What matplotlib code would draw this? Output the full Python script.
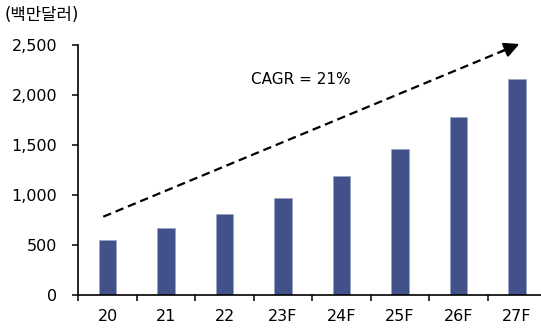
import matplotlib
matplotlib.use("Agg")
import matplotlib.pyplot as plt
from matplotlib.ticker import FuncFormatter

plt.rcParams['font.family'] = ['DejaVu Sans', 'Noto Sans CJK KR']

# Market size by year (USD millions)
years = ["20", "21", "22", "23F", "24F", "25F", "26F", "27F"]
values = [550, 670, 810, 970, 1190, 1460, 1780, 2160]
unit_label = "(백만달러)"
cagr_label = "CAGR = 21%"
y_ticks = [0, 500, 1000, 1500, 2000, 2500]

W, H = 541, 329
fig = plt.figure(figsize=(W / 100, H / 100), dpi=100)
ax = fig.add_axes([78.3 / W, 1 - 295.3 / H, 468 / W, (295.3 - 45.3) / H])

x = list(range(len(years)))
ax.bar(x, values, width=0.30, color="#43518a", edgecolor="#9aa3c8", linewidth=0.5, zorder=2)

ax.set_xlim(-0.5, len(years) - 0.5)
ax.set_ylim(0, 2500)
ax.set_yticks(y_ticks)
ax.yaxis.set_major_formatter(FuncFormatter(lambda v, _: f"{int(v):,}"))
ax.set_xticks([i - 0.5 for i in x], minor=False)
ax.set_xticklabels([])
ax.set_xticks(x, minor=True)
ax.set_xticklabels(years, minor=True)

for s in ("top", "right"):
    ax.spines[s].set_visible(False)
for s in ("left", "bottom"):
    ax.spines[s].set_linewidth(1.2)
    ax.spines[s].set_color("black")

ax.tick_params(axis="y", which="major", direction="out", length=4.3, width=1.1,
               pad=11, labelsize=11.5, colors="black")
ax.tick_params(axis="x", which="major", direction="out", length=4.3, width=1.1)
ax.tick_params(axis="x", which="minor", length=0, pad=10, labelsize=11.5)

# Growth trend arrow
x0, y0 = -0.073, 786
x1, y1 = 7.04, 2513
frac = 0.965
xm, ym = x0 + (x1 - x0) * frac, y0 + (y1 - y0) * frac
ax.plot([x0, xm], [y0, ym], color="black", linewidth=1.6, dashes=(3.8, 2.2),
        clip_on=False, zorder=3)
ax.annotate("", xy=(x1, y1), xytext=(xm - (x1 - x0) * 0.01, ym - (y1 - y0) * 0.01),
            arrowprops=dict(arrowstyle="-|>,head_length=0.9,head_width=0.45",
                            color="black", lw=1.6, shrinkA=0, shrinkB=0),
            annotation_clip=False, zorder=3)

ax.text(3.31, 2153, cagr_label, ha="center", va="center", fontsize=11, color="black")
fig.text(5 / W, 1 - 15 / H, unit_label, ha="left", va="center", fontsize=12, color="black")

fig.savefig("out.png", dpi=100)
